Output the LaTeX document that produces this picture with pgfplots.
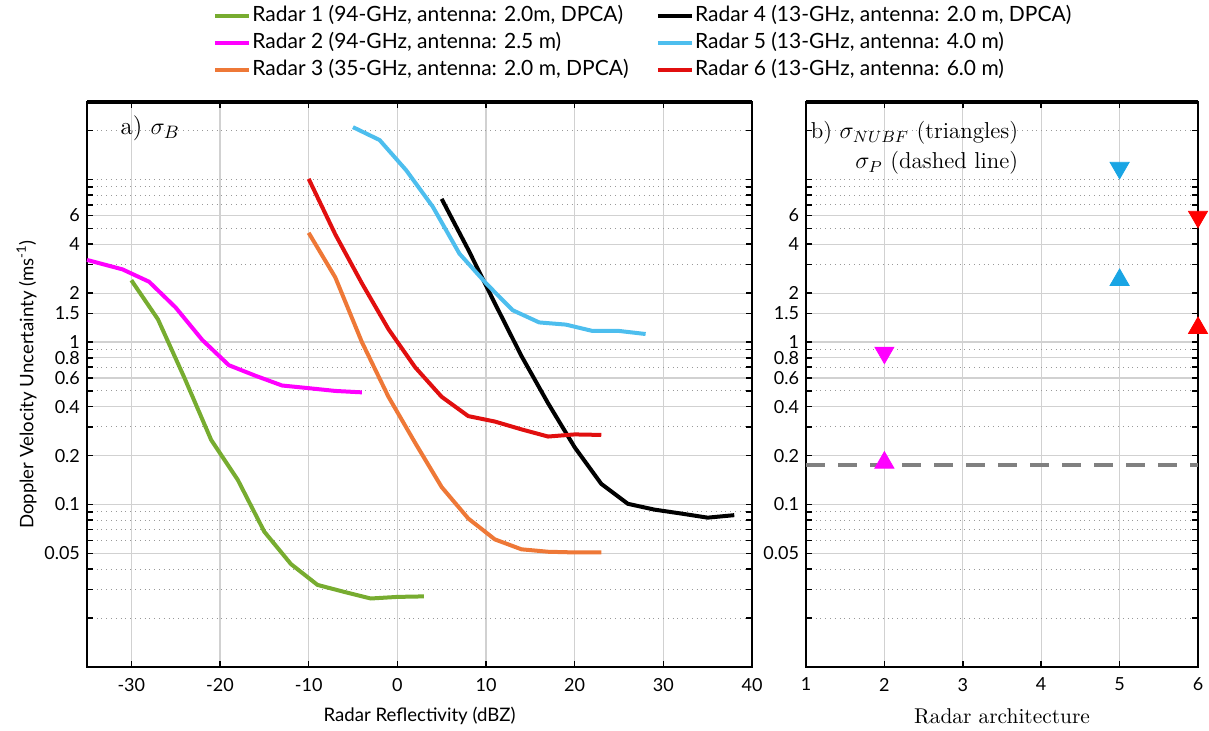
\documentclass[border=0pt]{standalone}
\usepackage{fontspec}
\usepackage{pgfplots}
\pgfplotsset{compat=1.18}
\newfontfamily\sansf{Lato}
\definecolor{cgreen}{RGB}{119,172,48}
\definecolor{cmag}{RGB}{255,0,255}
\definecolor{corange}{RGB}{238,120,55}
\definecolor{ccyan}{RGB}{77,190,238}
\definecolor{cred}{RGB}{225,15,15}
\definecolor{mcyan}{RGB}{25,165,228}
\definecolor{mred}{RGB}{255,0,0}
\begin{document}
\begin{tikzpicture}
\path[use as bounding box] (0,0) rectangle (604.5pt,365.5pt);
\pgfplotsset{
  every axis/.append style={
    scale only axis, ymode=log, ymin=0.01, ymax=30, height=282.5pt,
    ytick={0.05,0.1,0.2,0.4,0.6,0.8,1,1.5,2,4,6},
    yticklabels={0.05,0.1,0.2,0.4,0.6,0.8,1,1.5,2,4,6},
    minor ytick={0.02,0.03,0.04,0.06,0.07,0.08,0.09,0.3,0.5,0.7,0.9,3,5,7,8,9,10,20},
    grid=both,
    major grid style={black!18, line width=0.6pt},
    minor grid style={black!40, dotted, line width=0.5pt},
    tick style={black, line width=0.8pt},
    major tick length=3pt, minor tick length=3pt,
    axis line style={line width=1pt},
    ticklabel style={font=\sansf\fontsize{9}{10}\selectfont},
    yticklabel style={inner ysep=0pt},
    xticklabel style={yshift=-2pt},
    clip=false,
  }
}
\begin{axis}[at={(43.5pt,32pt)}, anchor=south west, width=332.5pt,
  xmin=-35, xmax=40, xtick={-30,-20,-10,0,10,20,30,40},
  xticklabels={-30,-20,-10,0,10,20,30,40},
  xlabel={Radar Reflectivity (dBZ)},
  ylabel={Doppler Velocity Uncertainty (ms\textsuperscript{-1})},
  label style={font=\sansf\fontsize{9.3}{11}\selectfont},
  xlabel style={yshift=-1pt},
  ylabel style={yshift=-3pt},
  legend columns=2, legend cell align=left,
  legend style={at={(0.18,1.18)}, anchor=north west, draw=none, fill=none,
    font=\sansf\fontsize{10.5}{12}\selectfont,
    nodes={inner sep=0.6pt, text height=7.6pt, text depth=2.2pt},
    /tikz/every even column/.append style={column sep=13pt},
    row sep=2.6pt},
]
\addplot[cgreen, line width=2pt] coordinates {(-30,2.4) (-27,1.38) (-24,0.6) (-21,0.25) (-18,0.142) (-15,0.068) (-12,0.043) (-9,0.032) (-6,0.029) (-3,0.0264) (0,0.027) (3,0.0272)};
\addlegendentry{Radar 1 (94-GHz, antenna: 2.0m, DPCA)}
\addplot[black, line width=2pt] coordinates {(5,7.6) (8,3.7) (11,1.73) (14,0.82) (17,0.42) (20,0.225) (23,0.134) (26,0.101) (29,0.093) (32,0.088) (35,0.083) (38,0.086)};
\addlegendentry{Radar 4 (13-GHz, antenna: 2.0 m, DPCA)}
\addplot[cmag, line width=2pt] coordinates {(-35,3.2) (-31,2.8) (-28,2.35) (-25,1.63) (-22,1.03) (-19,0.72) (-16,0.62) (-13,0.54) (-10,0.52) (-7,0.50) (-4,0.49)};
\addlegendentry{Radar 2 (94-GHz, antenna: 2.5 m)}
\addplot[ccyan, line width=2pt] coordinates {(-5,21) (-2,17.5) (1,11.4) (4,6.8) (7,3.5) (10,2.3) (13,1.57) (16,1.32) (19,1.28) (22,1.17) (25,1.17) (28,1.12)};
\addlegendentry{Radar 5 (13-GHz, antenna: 4.0 m)}
\addplot[corange, line width=2pt] coordinates {(-10,4.7) (-7,2.5) (-4,1.0) (-1,0.46) (2,0.24) (5,0.128) (8,0.082) (11,0.061) (14,0.053) (17,0.0512) (20,0.0507) (23,0.0507)};
\addlegendentry{Radar 3 (35-GHz, antenna: 2.0 m, DPCA)}
\addplot[cred, line width=2pt] coordinates {(-10,10.1) (-7,4.6) (-4,2.3) (-1,1.2) (2,0.70) (5,0.46) (8,0.35) (11,0.324) (14,0.29) (17,0.262) (20,0.27) (23,0.268)};
\addlegendentry{Radar 6 (13-GHz, antenna: 6.0 m)}
\draw[line width=1.6pt] (rel axis cs:0,1) -- (rel axis cs:1,1);
\node[anchor=west, font=\fontsize{12.5}{14}\selectfont] at (rel axis cs:0.04,0.954) {a) $\sigma_B$};
\end{axis}
\begin{axis}[at={(403pt,32pt)}, anchor=south west, width=196pt,
  xmin=1, xmax=6, xtick={1,2,3,4,5,6}, xticklabels={1,2,3,4,5,6},
  xlabel={Radar architecture},
  xlabel style={font=\fontsize{10.7}{13}\selectfont, yshift=-2pt},
]
\addplot[black!50, line width=2pt, dash pattern=on 9.5pt off 6.5pt] coordinates {(1,0.176) (6,0.176)};
\addplot[only marks, mark=triangle*, mark size=5.5pt, color=mcyan, mark options={rotate=180}] coordinates {(5,11.8)};
\addplot[only marks, mark=triangle*, mark size=5.5pt, color=mcyan] coordinates {(5,2.41)};
\addplot[only marks, mark=triangle*, mark size=5.5pt, color=mred, mark options={rotate=180}] coordinates {(6,5.9)};
\addplot[only marks, mark=triangle*, mark size=5.5pt, color=mred] coordinates {(6,1.22)};
\addplot[only marks, mark=triangle*, mark size=5.5pt, color=cmag, mark options={rotate=180}] coordinates {(2,0.86)};
\addplot[only marks, mark=triangle*, mark size=5.5pt, color=cmag] coordinates {(2,0.181)};
\draw[line width=1.6pt] (rel axis cs:0,1) -- (rel axis cs:1,1);
\node[anchor=north east, align=right, font=\fontsize{11.5}{15}\selectfont] at (rel axis cs:0.559,0.978) {b) $\sigma_{NUBF}$ (triangles)\\ $\sigma_P$ (dashed line)};
\end{axis}
\end{tikzpicture}
\end{document}
